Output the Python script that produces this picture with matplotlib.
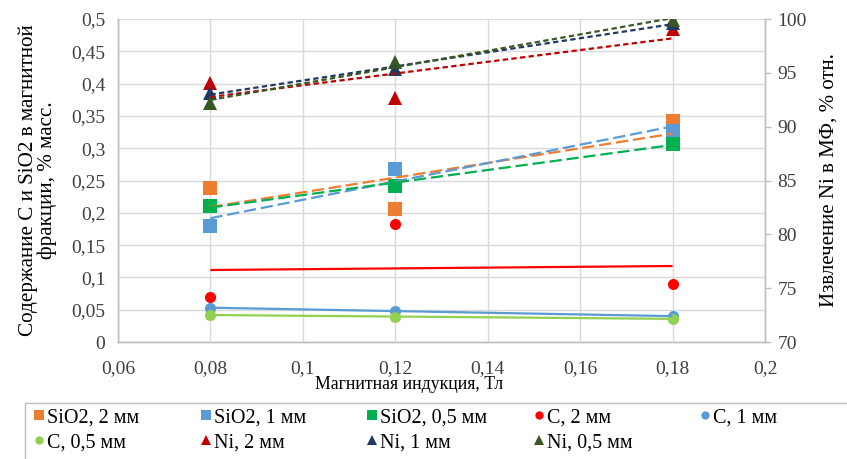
import numpy as np
import matplotlib
matplotlib.use("Agg")
import matplotlib.pyplot as plt
from matplotlib.lines import Line2D
from matplotlib.patches import Rectangle
from matplotlib.ticker import FuncFormatter, MultipleLocator

plt.rcParams['font.family'] = ['Liberation Serif', 'DejaVu Serif']

# Magnetic induction, T
induction = [0.08, 0.12, 0.18]

# SiO2 content in magnetic fraction, wt.%
sio2_2mm = [0.238, 0.206, 0.342]
sio2_1mm = [0.180, 0.268, 0.326]
sio2_05mm = [0.211, 0.242, 0.307]

# Carbon content in magnetic fraction, wt.%
c_2mm = [0.070, 0.183, 0.090]
c_1mm = [0.053, 0.048, 0.040]
c_05mm = [0.042, 0.039, 0.036]

# Ni recovery to magnetic fraction, rel.%
ni_2mm = [94.1, 92.7, 99.1]
ni_1mm = [93.1, 95.4, 99.6]
ni_05mm = [92.2, 96.0, 99.9]

x_ticks = [0.06, 0.08, 0.10, 0.12, 0.14, 0.16, 0.18, 0.20]

fig = plt.figure(figsize=(8.47, 4.59), dpi=100)
ax = fig.add_axes([0.1393, 0.2549, 0.7639, 0.7037])
ax2 = ax.twinx()

x = np.array(induction)
xfit = np.array([x.min(), x.max()])


def comma(v, pos=None):
    s = ('%.2f' % v).rstrip('0').rstrip('.')
    return s.replace('.', ',')


def trend(axis, ys, color, dashes=None):
    k, b = np.polyfit(x, ys, 1)
    ln, = axis.plot(xfit, k * xfit + b, color=color, lw=1.6, zorder=4,
                    solid_capstyle='butt', dash_capstyle='butt')
    if dashes is not None:
        ln.set_dashes(dashes)


series_left = [
    (sio2_2mm, '#ED7D31', 's', 10, 'SiO2, 2 мм', (5.5, 2.2)),
    (sio2_1mm, '#5B9BD5', 's', 10, 'SiO2, 1 мм', (5.5, 2.2)),
    (sio2_05mm, '#00B050', 's', 10, 'SiO2, 0,5 мм', (5.5, 2.2)),
    (c_2mm, '#FF0000', 'o', 8, 'C, 2 мм', None),
    (c_1mm, '#5B9BD5', 'o', 8, 'C, 1 мм', None),
    (c_05mm, '#92D050', 'o', 8, 'C, 0,5 мм', None),
]
series_right = [
    (ni_2mm, '#C00000', '^', 10, 'Ni, 2 мм', (2.4, 1.5)),
    (ni_1mm, '#203864', '^', 10, 'Ni, 1 мм', (2.4, 1.5)),
    (ni_05mm, '#385723', '^', 10, 'Ni, 0,5 мм', (2.4, 1.5)),
]

handles = []
for ys, col, mk, ms, lab, dsh in series_left:
    ax.plot(x, ys, linestyle='none', marker=mk, ms=ms, color=col, mew=0, zorder=3)
    trend(ax, ys, col, dsh)
    handles.append((Line2D([], [], linestyle='none', marker=mk, ms=7 if mk == 's' else 6,
                           color=col, mew=0), lab))
for ys, col, mk, ms, lab, dsh in series_right:
    ax2.plot(x, ys, linestyle='none', marker=mk, ms=ms, color=col, mew=0, zorder=3)
    trend(ax2, ys, col, dsh)
    handles.append((Line2D([], [], linestyle='none', marker=mk, ms=7, color=col, mew=0), lab))

ax.set_xlim(0.06, 0.20)
ax.set_ylim(0, 0.5)
ax2.set_ylim(70, 100)
ax.set_xticks(x_ticks)
ax.yaxis.set_major_locator(MultipleLocator(0.05))
ax2.yaxis.set_major_locator(MultipleLocator(5))
ax.xaxis.set_major_formatter(FuncFormatter(comma))
ax.yaxis.set_major_formatter(FuncFormatter(comma))

grid_c = '#D9D9D9'
ax.grid(True, color=grid_c, lw=1.0)
ax.set_axisbelow(True)
for a in (ax, ax2):
    a.spines['top'].set_visible(False)
    for s in ('left', 'right', 'bottom'):
        a.spines[s].set_color('#BFBFBF')
        a.spines[s].set_linewidth(1.0)
ax.tick_params(axis='both', length=0, labelsize=14, colors='#404040', pad=9)
ax.tick_params(axis='x', pad=13)
ax2.tick_params(axis='y', length=4, width=1, color='#BFBFBF', labelsize=14,
                labelcolor='#404040', pad=5)
for t in ax.get_xticklabels() + ax.get_yticklabels() + ax2.get_yticklabels():
    t.set_color('#404040')

ax.set_xlabel('Магнитная индукция, Тл', fontsize=12.8)
ax.xaxis.set_label_coords(0.45, -0.104)
ax.set_ylabel('Содержание C и SiO2 в магнитной\nфракции, % масс.', fontsize=15.2,
              linespacing=1.0, labelpad=10)
ax2.set_ylabel('Извлечение Ni в МФ, % отн.', fontsize=15, rotation=90, labelpad=9)

# legend frame, extending beyond the figure edge
fig.add_artist(Rectangle((25 / 847, -0.2), 1.0, 1 - 403 / 459 + 0.2,
                         transform=fig.transFigure, fill=False,
                         edgecolor='#BFBFBF', lw=1.0, clip_on=False))

row1 = handles[0:5]
row2 = handles[5:9]
col_x = [29, 196, 362, 529, 695]
for i, cx in enumerate(col_x):
    entries = [row1[i]] + ([row2[i]] if i < len(row2) else [])
    fig.legend([h for h, _ in entries], [l for _, l in entries],
               loc='upper left', bbox_to_anchor=(cx / 847, 1 - 404 / 459),
               frameon=False, fontsize=14.5, handlelength=0.6, handletextpad=0.1,
               labelspacing=0.3, borderaxespad=0, borderpad=0.2)

fig.savefig('out.png', dpi=100)
